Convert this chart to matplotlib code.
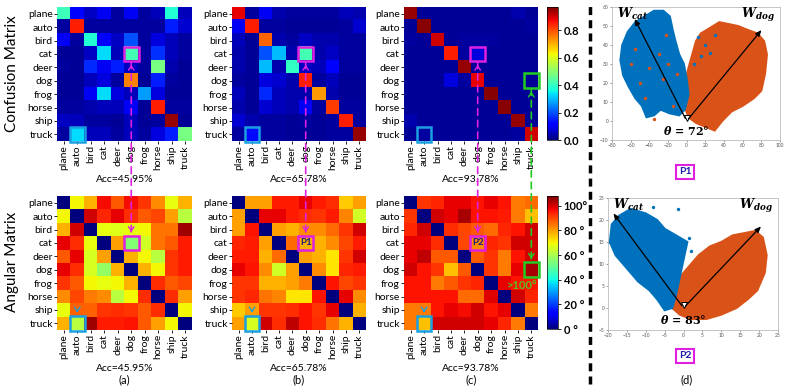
import matplotlib
matplotlib.use("Agg")
import matplotlib.pyplot as plt
import numpy as np
from matplotlib.lines import Line2D
from matplotlib.patches import ConnectionPatch, Polygon, Rectangle

W, H = 788, 388
plt.rcParams["font.family"] = ["Lato", "DejaVu Sans"]

CLASSES = ["plane", "auto", "bird", "cat", "deer", "dog", "frog", "horse", "ship", "truck"]
ACC = ["Acc=45.95%", "Acc=65.78%", "Acc=93.78%"]
LETTERS = ["(a)", "(b)", "(c)"]

CONF_A = [
    [0.41, 0.12, 0.06, 0.10, 0.03, 0.10, 0.03, 0.05, 0.38, 0.05],
    [0.03, 0.85, 0.03, 0.03, 0.03, 0.03, 0.03, 0.03, 0.15, 0.07],
    [0.10, 0.03, 0.38, 0.12, 0.06, 0.20, 0.03, 0.08, 0.05, 0.03],
    [0.02, 0.02, 0.06, 0.33, 0.05, 0.42, 0.03, 0.17, 0.05, 0.03],
    [0.03, 0.02, 0.16, 0.10, 0.15, 0.06, 0.03, 0.48, 0.04, 0.02],
    [0.02, 0.02, 0.05, 0.08, 0.03, 0.75, 0.02, 0.15, 0.03, 0.02],
    [0.02, 0.02, 0.10, 0.33, 0.08, 0.05, 0.27, 0.08, 0.02, 0.02],
    [0.03, 0.03, 0.04, 0.05, 0.05, 0.10, 0.02, 0.85, 0.03, 0.03],
    [0.06, 0.05, 0.03, 0.03, 0.02, 0.05, 0.02, 0.03, 0.95, 0.02],
    [0.03, 0.33, 0.05, 0.05, 0.03, 0.05, 0.03, 0.08, 0.15, 0.48],
]
CONF_B = [
    [0.88, 0.03, 0.10, 0.04, 0.03, 0.03, 0.03, 0.03, 0.05, 0.04],
    [0.10, 0.85, 0.03, 0.03, 0.02, 0.02, 0.02, 0.02, 0.03, 0.07],
    [0.05, 0.02, 0.78, 0.04, 0.03, 0.06, 0.04, 0.04, 0.03, 0.03],
    [0.04, 0.02, 0.20, 0.30, 0.04, 0.42, 0.04, 0.06, 0.03, 0.03],
    [0.04, 0.02, 0.30, 0.04, 0.40, 0.06, 0.05, 0.12, 0.03, 0.03],
    [0.03, 0.02, 0.08, 0.07, 0.04, 0.85, 0.03, 0.05, 0.02, 0.02],
    [0.05, 0.02, 0.16, 0.05, 0.04, 0.04, 0.72, 0.04, 0.02, 0.02],
    [0.04, 0.02, 0.07, 0.05, 0.04, 0.10, 0.03, 0.82, 0.03, 0.03],
    [0.07, 0.04, 0.03, 0.03, 0.02, 0.03, 0.02, 0.03, 0.85, 0.03],
    [0.03, 0.13, 0.03, 0.03, 0.02, 0.02, 0.02, 0.03, 0.03, 0.95],
]
CONF_C = [
    [0.95, 0.02, 0.02, 0.02, 0.02, 0.02, 0.02, 0.02, 0.04, 0.02],
    [0.02, 0.96, 0.02, 0.02, 0.02, 0.02, 0.02, 0.02, 0.02, 0.03],
    [0.03, 0.02, 0.90, 0.02, 0.03, 0.03, 0.03, 0.02, 0.02, 0.02],
    [0.02, 0.02, 0.02, 0.85, 0.03, 0.08, 0.02, 0.02, 0.02, 0.02],
    [0.02, 0.02, 0.02, 0.02, 0.95, 0.02, 0.02, 0.02, 0.02, 0.02],
    [0.02, 0.02, 0.02, 0.08, 0.03, 0.88, 0.02, 0.02, 0.02, 0.02],
    [0.02, 0.02, 0.02, 0.02, 0.02, 0.02, 0.96, 0.02, 0.02, 0.02],
    [0.02, 0.02, 0.02, 0.02, 0.02, 0.02, 0.02, 0.96, 0.02, 0.02],
    [0.04, 0.02, 0.02, 0.02, 0.02, 0.02, 0.02, 0.02, 0.95, 0.02],
    [0.02, 0.03, 0.02, 0.02, 0.02, 0.02, 0.02, 0.02, 0.03, 0.90],
]
ANG_A = [
    [0, 70, 78, 97, 88, 97, 92, 82, 68, 78],
    [70, 0, 100, 94, 98, 93, 88, 90, 80, 62],
    [78, 100, 0, 68, 67, 68, 70, 85, 85, 105],
    [98, 93, 68, 0, 80, 55, 65, 85, 88, 95],
    [88, 98, 66, 80, 0, 78, 70, 62, 92, 95],
    [98, 93, 66, 57, 78, 0, 78, 70, 92, 95],
    [92, 88, 70, 68, 70, 78, 0, 93, 88, 90],
    [82, 90, 84, 82, 62, 70, 93, 0, 93, 80],
    [68, 87, 87, 92, 93, 92, 88, 93, 0, 70],
    [78, 62, 105, 95, 95, 96, 88, 80, 70, 0],
]
ANG_B = [
    [0, 80, 80, 95, 95, 98, 95, 93, 75, 80],
    [80, 0, 98, 98, 95, 93, 92, 95, 83, 65],
    [80, 96, 0, 80, 78, 82, 82, 86, 92, 100],
    [94, 95, 80, 0, 86, 78, 78, 82, 90, 95],
    [95, 95, 78, 86, 0, 80, 78, 72, 92, 100],
    [98, 96, 82, 65, 80, 0, 82, 72, 94, 95],
    [92, 92, 78, 78, 80, 84, 0, 96, 90, 92],
    [92, 94, 85, 83, 72, 72, 96, 0, 98, 82],
    [75, 80, 92, 92, 93, 96, 92, 98, 0, 78],
    [80, 66, 100, 93, 102, 96, 93, 85, 78, 0],
]
ANG_C = [
    [0, 92, 94, 98, 98, 96, 98, 96, 84, 86],
    [92, 0, 100, 98, 104, 96, 96, 95, 84, 76],
    [94, 100, 0, 93, 90, 88, 86, 94, 96, 100],
    [98, 98, 93, 0, 90, 82, 94, 92, 100, 100],
    [98, 102, 88, 88, 0, 88, 92, 84, 96, 100],
    [100, 96, 92, 76, 88, 0, 92, 84, 98, 104],
    [96, 96, 84, 88, 92, 94, 0, 98, 96, 96],
    [96, 96, 96, 96, 86, 86, 99, 0, 100, 94],
    [84, 84, 96, 98, 97, 100, 96, 98, 0, 84],
    [84, 76, 100, 100, 100, 100, 98, 94, 84, 0],
]

# highlighted cells (row, col), colour, panels
HIGHLIGHTS = [
    ((3, 5), "#e020e0", [0, 1, 2]),   # cat / dog
    ((9, 1), "#1aa0e0", [0, 1, 2]),   # truck / auto
    ((5, 9), "#22cc22", [2]),         # dog / truck
]

# scatter cloud outlines
P1_CAT = [(-71, 32), (-69, 40), (-63, 47), (-55, 52), (-45, 55), (-35, 58), (-25, 58), (-18, 55),
          (-15, 48), (-12, 42), (-8, 35), (-3, 30), (0, 22), (2, 14), (-2, 6), (-8, 3), (-18, 4),
          (-28, 6), (-35, 3), (-43, 2), (-48, 8), (-55, 12), (-62, 18), (-68, 24)]
P1_DOG = [(2, 2), (10, -1), (20, -3), (30, -5), (38, 0), (48, 5), (60, 8), (72, 12), (80, 16),
          (84, 25), (86, 35), (83, 42), (76, 46), (65, 48), (55, 50), (45, 51), (35, 52), (25, 49),
          (15, 46), (10, 42), (6, 35), (2, 28), (-2, 20), (-4, 10)]
P1_CAT_STRAY = [(12, 44), (20, 40), (8, 30), (30, 45), (25, 36), (15, 34)]
P1_DOG_STRAY = [(-55, 38), (-40, 28), (-25, 22), (-20, 30), (-15, 8), (-30, 35), (-45, 12),
                (-10, 25), (-35, 1), (-60, 30), (-50, 20), (-22, 45)]
P2_CAT = [(-19.5, 15), (-19, 19), (-17, 21), (-14, 22.5), (-10, 21.5), (-7, 20), (-5, 18), (-3, 17),
          (-1, 16), (1, 15), (0, 11), (-1, 7), (-2, 3), (-3, 0), (-5, -0.5), (-7, 2), (-9, 4),
          (-12, 6), (-14, 8), (-16, 10), (-18, 12)]
P2_DOG = [(-4, 3), (-3, 0), (-1, -1.5), (2, -2.5), (6, -2.5), (10, -1.5), (14, 0), (17, 2),
          (19.5, 4), (21.5, 8), (22, 12), (21, 16), (19, 17.5), (16, 17), (13, 16.5), (10, 15),
          (7, 14), (4, 12), (2, 10), (0, 8), (-2, 6)]
P2_CAT_STRAY = [(-1.5, 22.5), (1.5, 16), (-20, 15), (2, 13), (-8, 23)]
P1_W = [(-57, 55), (82, 49)]
P2_W = [(-19, 22), (21, 19)]

BLUE = "#0072bd"
ORANGE = "#d95319"


def rect(x0, y0, x1, y1):
    return [x0 / W, 1 - y1 / H, (x1 - x0) / W, (y1 - y0) / H]


def draw_matrix(ax, data, vmax, acc, letter=None):
    im = ax.imshow(np.array(data, dtype=float), cmap="jet", vmin=0, vmax=vmax,
                   interpolation="nearest", aspect="auto")
    ax.set_xticks(range(10))
    ax.set_xticklabels(CLASSES, rotation=90, fontsize=7.5)
    ax.set_yticks(range(10))
    ax.set_yticklabels(CLASSES, fontsize=7.5)
    ax.tick_params(length=2, pad=1, width=0.6)
    for s in ax.spines.values():
        s.set_visible(False)
    ax.text(0.5, -0.29, acc, transform=ax.transAxes, ha="center", va="center", fontsize=7.5)
    if letter:
        ax.text(0.5, -0.375, letter, transform=ax.transAxes, ha="center", va="center", fontsize=8)
    return im


def draw_scatter(ax, cat, dog, cat_stray, dog_stray, wvec, xlim, ylim, xt, yt, theta, ty):
    ax.add_patch(Polygon(dog, closed=True, fc=ORANGE, ec=ORANGE, lw=1.5))
    ax.add_patch(Polygon(cat, closed=True, fc=BLUE, ec=BLUE, lw=1.5))
    if cat_stray:
        ax.scatter(*zip(*cat_stray), s=6, color=BLUE, lw=0)
    if dog_stray:
        ax.scatter(*zip(*dog_stray), s=6, color=ORANGE, lw=0)
    for x, y in wvec:
        ax.annotate("", xy=(x, y), xytext=(0, 0),
                    arrowprops=dict(arrowstyle="-|>,head_length=0.35,head_width=0.15", color="black", lw=0.9))
    ax.plot(0, (ylim[1] - ylim[0]) * 0.025, marker="v", ms=4, mfc="white", mec="black", mew=0.7)
    ax.text(xlim[0] + (xlim[1] - xlim[0]) * 0.03, ylim[1] - (ylim[1] - ylim[0]) * 0.08,
            r"$\mathbfit{W}_{\mathbfit{cat}}$", fontsize=9, math_fontfamily="dejavuserif")
    ax.text(xlim[1] - (xlim[1] - xlim[0]) * 0.03, ylim[1] - (ylim[1] - ylim[0]) * 0.08,
            r"$\mathbfit{W}_{\mathbfit{dog}}$", fontsize=9, ha="right", math_fontfamily="dejavuserif")
    ax.text(0, ty, r"$\mathbfit{\theta}$ = " + theta, fontsize=8, ha="center", va="center",
            family="DejaVu Serif", weight="bold", math_fontfamily="dejavuserif")
    ax.set_xlim(*xlim)
    ax.set_ylim(*ylim)
    ax.set_xticks(xt)
    ax.set_yticks(yt)
    ax.tick_params(labelsize=3.5, length=1.5, width=0.4, pad=1, colors="#555555")
    for s in ax.spines.values():
        s.set_color("#bbbbbb")
        s.set_linewidth(0.6)


def main():
    fig = plt.figure(figsize=(W / 100, H / 100), dpi=100)
    xs = [(57, 192), (232, 366), (404, 538)]
    top_axes, bot_axes = [], []
    for i, (conf, ang) in enumerate(zip([CONF_A, CONF_B, CONF_C], [ANG_A, ANG_B, ANG_C])):
        ax = fig.add_axes(rect(xs[i][0], 7, xs[i][1], 141))
        im_c = draw_matrix(ax, conf, 0.97, ACC[i])
        top_axes.append(ax)
        ax = fig.add_axes(rect(xs[i][0], 196, xs[i][1], 330))
        im_a = draw_matrix(ax, ang, 108, ACC[i], LETTERS[i])
        bot_axes.append(ax)

    cax = fig.add_axes(rect(547, 7, 558, 140))
    cb = fig.colorbar(im_c, cax=cax, ticks=[0, 0.2, 0.4, 0.6, 0.8])
    cb.ax.set_yticklabels(["0.0", "0.2", "0.4", "0.6", "0.8"], fontsize=8, weight="bold")
    cb.outline.set_linewidth(0.5)
    cb.ax.tick_params(length=2, width=0.6, pad=2)
    cax = fig.add_axes(rect(547, 196, 558, 329))
    cb = fig.colorbar(im_a, cax=cax, ticks=[0, 20, 40, 60, 80, 100])
    cb.ax.set_yticklabels(["0 °", "20 °", "40 °", "60 °", "80 °", "100°"], fontsize=8, weight="bold")
    cb.outline.set_linewidth(0.5)
    cb.ax.tick_params(length=2, width=0.6, pad=2)

    # highlight boxes and dashed links between the two rows
    for (r, c), color, panels in HIGHLIGHTS:
        for p in panels:
            for ax in (top_axes[p], bot_axes[p]):
                ax.add_patch(Rectangle((c - 0.55, r - 0.55), 1.1, 1.1, fill=False, ec=color,
                                       lw=1.8, clip_on=False, zorder=5))
            con = ConnectionPatch(xyA=(c, r + 0.6), coordsA="data", axesA=top_axes[p],
                                  xyB=(c, r - 0.6), coordsB="data", axesB=bot_axes[p],
                                  color=color, lw=1.2, ls=(0, (4, 3)), zorder=6)
            fig.add_artist(con)
            top_axes[p].annotate("", xy=(c, r + 0.6), xytext=(c, r + 1.1),
                                 arrowprops=dict(arrowstyle="->,head_length=0.3,head_width=0.2",
                                                 color=color, lw=1.0))
            bot_axes[p].annotate("", xy=(c, r - 0.6), xytext=(c, r - 1.1),
                                 arrowprops=dict(arrowstyle="->,head_length=0.3,head_width=0.2",
                                                 color=color, lw=1.0))

    bot_axes[1].text(5, 3, "P1", ha="center", va="center", fontsize=7, weight="bold", color="#1a1a80", zorder=7)
    bot_axes[2].text(5, 3, "P2", ha="center", va="center", fontsize=7, weight="bold", color="#1a1a80", zorder=7)
    bot_axes[2].text(8.3, 6.2, ">100°", ha="center", va="center", fontsize=8, weight="bold", color="#55c022", zorder=7)

    fig.text(12 / W, 1 - 74 / H, "Confusion Matrix", rotation=90, ha="center", va="center", fontsize=11)
    fig.text(12 / W, 1 - 262 / H, "Angular Matrix", rotation=90, ha="center", va="center", fontsize=11)

    fig.add_artist(Line2D([590 / W, 590 / W], [0.01, 0.99], color="black", lw=2.5, ls=(0, (2.3, 1.5))))

    ax = fig.add_axes(rect(612, 7, 780, 140))
    draw_scatter(ax, P1_CAT, P1_DOG, P1_CAT_STRAY, P1_DOG_STRAY, P1_W, (-80, 100), (-10, 60),
                 range(-80, 101, 20), range(-10, 61, 10), "72°", -5)
    ax = fig.add_axes(rect(608, 198, 778, 330))
    draw_scatter(ax, P2_CAT, P2_DOG, P2_CAT_STRAY, [], P2_W, (-20, 25), (-5, 25),
                 range(-20, 26, 5), range(-5, 26, 5), "83°", -2.5)

    for label, y in [("P1", 172), ("P2", 356)]:
        fig.text(685 / W, 1 - y / H, label, ha="center", va="center", fontsize=7.5, weight="bold",
                 color="#1a1ab0", bbox=dict(boxstyle="square,pad=0.25", fc="white", ec="#e020e0", lw=1.5))
    fig.text(687 / W, 1 - 380 / H, "(d)", ha="center", va="center", fontsize=8)

    fig.savefig("out.png", dpi=100)


if __name__ == "__main__":
    main()
